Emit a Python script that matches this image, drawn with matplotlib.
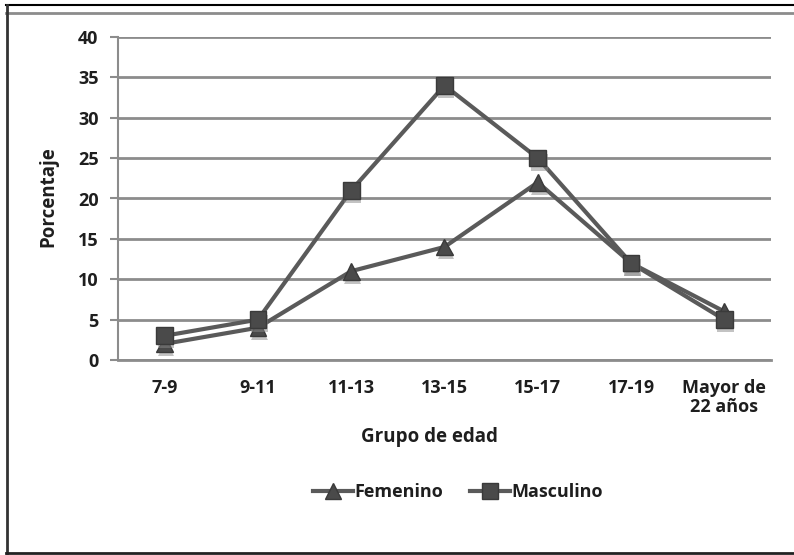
import matplotlib.pyplot as plt
import matplotlib.patheffects as pe
from matplotlib.lines import Line2D

# data
grupos = ['7-9', '9-11', '11-13', '13-15', '15-17', '17-19', 'Mayor de\n22 años']
femenino = [2, 4, 11, 14, 22, 12, 6]
masculino = [3, 5, 21, 34, 25, 12, 5]
yticks = [0, 5, 10, 15, 20, 25, 30, 35, 40]

plt.rcParams['font.family'] = ['Open Sans', 'DejaVu Sans']
txt = dict(fontsize=13, fontweight='bold', color='#1e1e1e')

fig = plt.figure(figsize=(7.94, 5.55), dpi=100)
ax = fig.add_axes([118 / 794, 1 - 360 / 555, 653 / 794, 323 / 555])

x = list(range(len(grupos)))
line_col = '#5a5a5a'
mk = dict(ms=12, mfc='#4a4a4a', mec='#3a3a3a')
shadow = [pe.SimplePatchShadow(offset=(1, -3), shadow_rgbFace='#888888', alpha=0.5), pe.Normal()]

# lines
ax.plot(x, femenino, color=line_col, lw=3, zorder=4)
ax.plot(x, masculino, color=line_col, lw=3, zorder=5)
# markers with a soft shadow
ax.plot(x, femenino, ls='none', marker='^', zorder=6, path_effects=shadow, **mk)
ax.plot(x, masculino, ls='none', marker='s', zorder=7, path_effects=shadow, **mk)

ax.set_xlim(-0.5, len(grupos) - 0.5)
ax.set_ylim(0, 40)
ax.set_yticks(yticks)
ax.set_xticks(x)
ax.set_xticklabels(grupos, linespacing=1.05, **txt)
ax.set_yticklabels([str(v) for v in yticks], **txt)
ax.grid(axis='y', color='#8c8c8c', lw=2)
ax.set_axisbelow(True)
for s in ['top', 'right']:
    ax.spines[s].set_visible(False)
ax.spines['left'].set_color('#8c8c8c')
ax.spines['left'].set_linewidth(1.5)
ax.spines['bottom'].set_color('#8c8c8c')
ax.spines['bottom'].set_linewidth(2)
ax.tick_params(axis='y', length=6, color='#8c8c8c', width=1.5, pad=8)
ax.tick_params(axis='x', length=0, pad=14)

ax.set_ylabel('Porcentaje', fontsize=13.5, fontweight='bold', color='#1e1e1e')
ax.set_xlabel('Grupo de edad', fontsize=13.5, fontweight='bold', color='#1e1e1e')
ax.yaxis.set_label_coords((48 - 118) / 653, (360 - 197) / 323)
ax.xaxis.set_label_coords((429 - 118) / 653, -(437 - 360) / 323)
ax.xaxis.label.set_verticalalignment('center')
ax.yaxis.label.set_verticalalignment('center')

handles = [
    Line2D([], [], color=line_col, lw=3, marker='^', **mk),
    Line2D([], [], color=line_col, lw=3, marker='s', **mk),
]
fig.legend(handles, ['Femenino', 'Masculino'], loc='center', bbox_to_anchor=(458 / 794, 1 - 492 / 555),
           ncol=2, frameon=False, prop={'size': 13, 'weight': 'bold'}, handlelength=2.2,
           handletextpad=0.1, columnspacing=1.5, labelcolor='#1e1e1e')

# outer frame
fig.add_artist(Line2D([6 / 794, 1], [1 - 5 / 555, 1 - 5 / 555], color='black', lw=1.5))
fig.add_artist(Line2D([6 / 794, 1], [1 - 13 / 555, 1 - 13 / 555], color='#8c8c8c', lw=2))
fig.add_artist(Line2D([7 / 794, 7 / 794], [1 - 5 / 555, 1 - 553 / 555], color='#333333', lw=2))
fig.add_artist(Line2D([6 / 794, 1], [1 - 553 / 555, 1 - 553 / 555], color='#222222', lw=2))

fig.savefig('out.png', dpi=100)
